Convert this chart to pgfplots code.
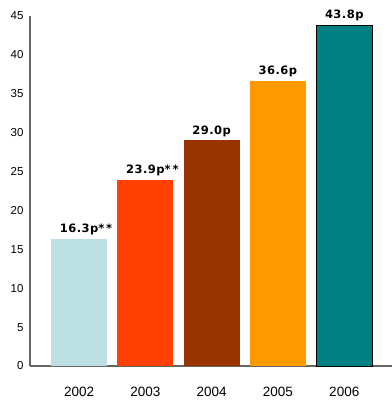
\documentclass[border=0pt]{standalone}
\usepackage{pgfplots}
\pgfplotsset{compat=1.18}
\usepackage{fontspec}
\setmainfont{Liberation Sans}
\newfontfamily\lblfont[LetterSpace=4]{DejaVu Sans}
\usetikzlibrary{calc}
\definecolor{c1}{HTML}{BBDFE3}
\definecolor{c2}{HTML}{FF4000}
\definecolor{c3}{HTML}{993300}
\definecolor{c4}{HTML}{FF9900}
\definecolor{c5}{HTML}{008080}
\definecolor{axc}{HTML}{666666}
\begin{document}
\begin{tikzpicture}
\begin{axis}[name=ax, scale only axis, width=362pt, height=350pt,
  xmin=-0.74, xmax=4.72, ymin=0, ymax=45,
  ytick={0,5,...,45}, xtick={0,1,2,3,4},
  xticklabels={2002,2003,2004,2005,2006},
  axis lines=left, axis line style={-, draw=axc, line width=1.2pt},
  major tick length=0pt,
  /pgf/number format/assume math mode=true,
  yticklabel style={font=\fontsize{11.5}{12}\selectfont, text=black, xshift=-3pt},
  xticklabel style={font=\fontsize{13.5}{14}\selectfont, text=black, yshift=-18pt},
  ybar, bar width=56pt,
  every node near coord/.append style={font=\lblfont\bfseries\fontsize{11.5}{12}\selectfont, text=black, yshift=0.5pt},
  clip=false]
\addplot[bar shift=0pt, fill=c1, draw=none, nodes near coords={16.3p\rlap{*\,*}}] coordinates {(0,16.3)};
\addplot[bar shift=0pt, fill=c2, draw=none, nodes near coords={23.9p\rlap{*\,*}}] coordinates {(1,23.9)};
\addplot[bar shift=0pt, fill=c3, draw=none, nodes near coords={29.0p}] coordinates {(2,29.0)};
\addplot[bar shift=0pt, fill=c4, draw=none, nodes near coords={36.6p}] coordinates {(3,36.6)};
\addplot[bar shift=0pt, fill=c5, draw=black, line width=0.8pt, nodes near coords={43.8p}] coordinates {(4,43.8)};
\end{axis}
\pgfresetboundingbox
\path ($(ax.south west)+(-30pt,-35pt)$) rectangle ($(ax.north east)+(0pt,16pt)$);
\end{tikzpicture}
\end{document}
